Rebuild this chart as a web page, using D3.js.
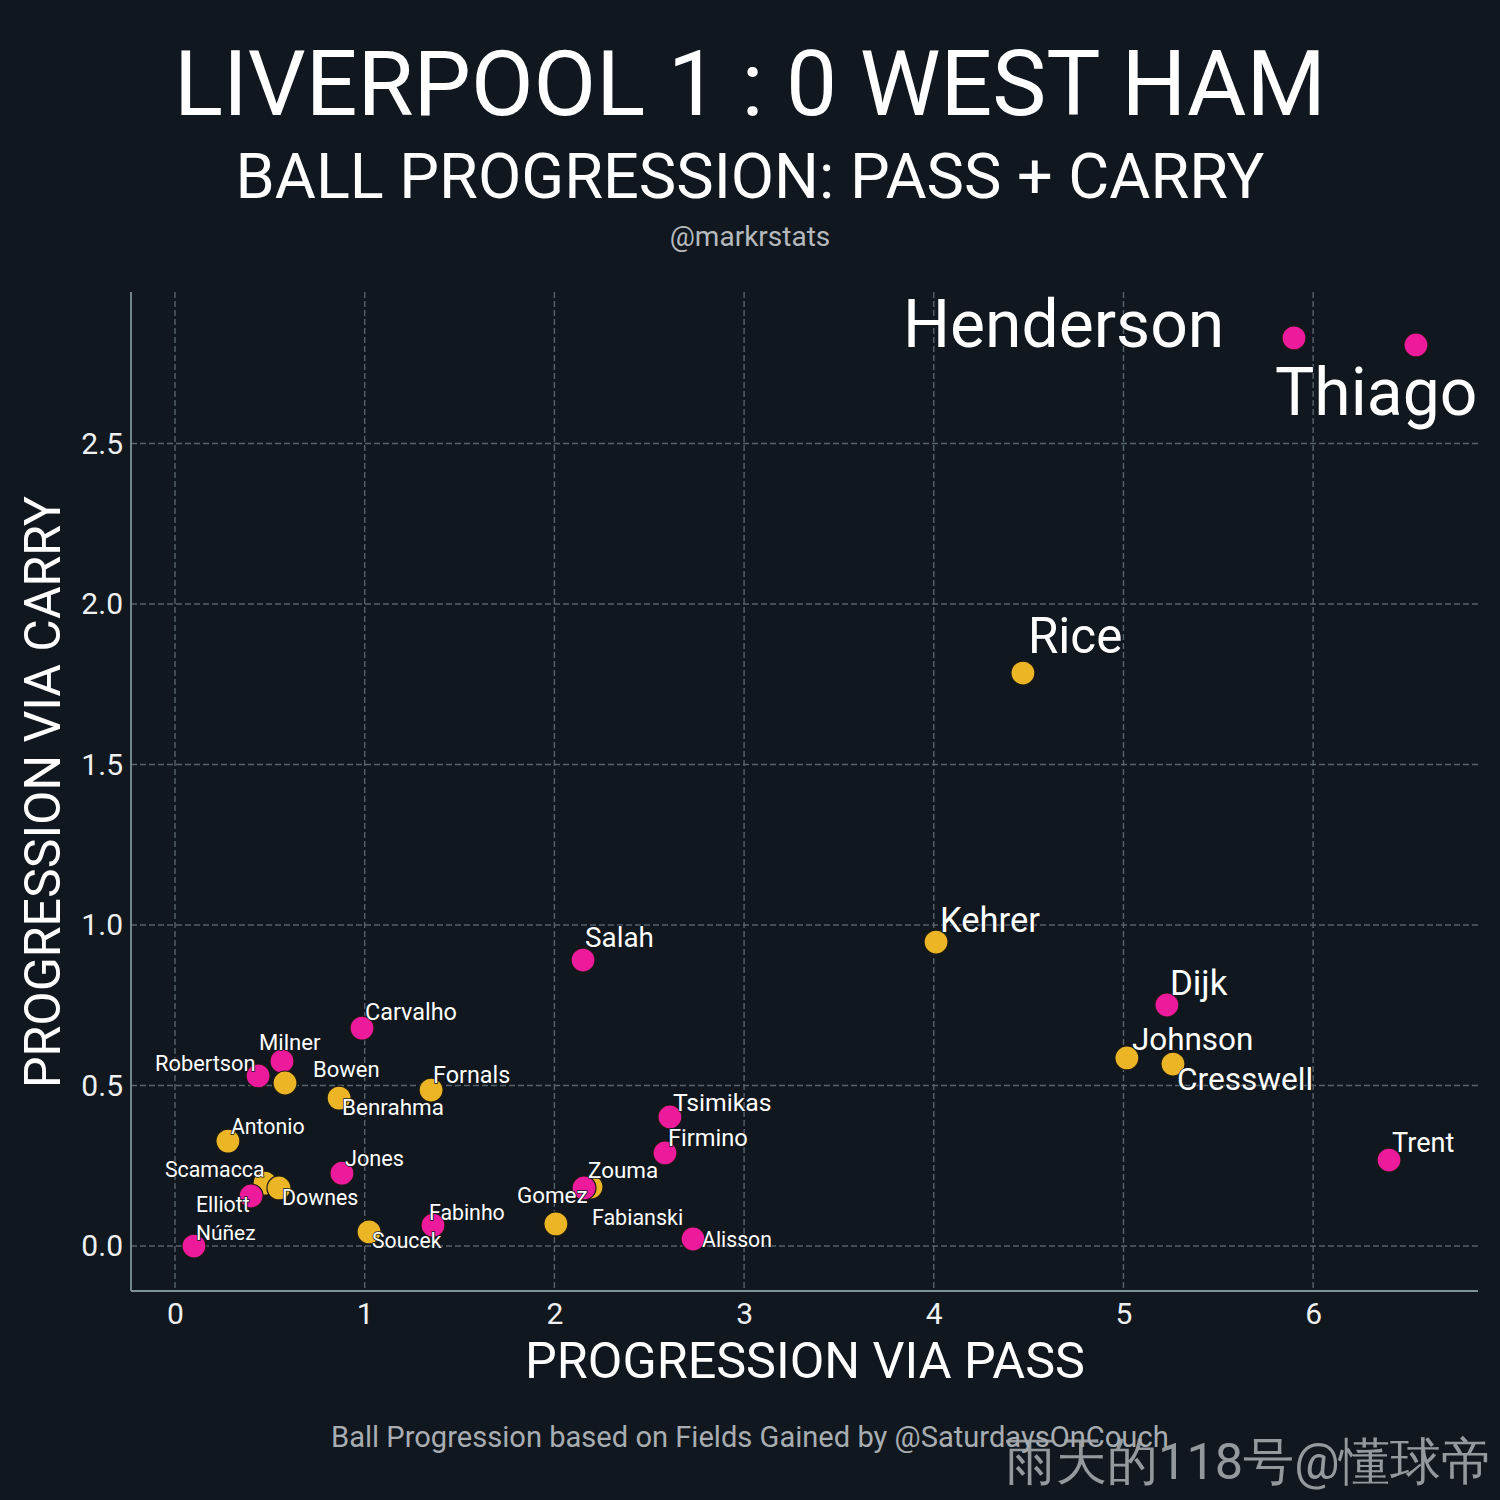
<!DOCTYPE html>
<html>
<head>
<meta charset="utf-8">
<script src="https://cdn.jsdelivr.net/npm/d3@7"></script>
<style>
  html, body { margin: 0; padding: 0; background: #10171e; }
  svg { display: block; }
  text { font-family: Roboto, "Noto Sans", sans-serif; }
</style>
</head>
<body>
<svg id="chart" width="1500" height="1500"></svg>
<script>
// ---------- DATA (draw order) ----------
const players = ["Milner","Robertson","Bowen","Carvalho","Benrahma","Fornals","Antonio","Scamacca","Downes","Elliott",
  "Jones","Núñez","Soucek","Fabinho","Zouma","Gomez","Fabianski","Tsimikas","Firmino","Alisson","Salah",
  "Kehrer","Rice","Johnson","Cresswell","Dijk","Trent","Henderson","Thiago"];
const team = ["LIV","LIV","WHU","LIV","WHU","WHU","WHU","WHU","WHU","LIV",
  "LIV","LIV","WHU","LIV","WHU","LIV","WHU","LIV","LIV","LIV","LIV",
  "WHU","WHU","WHU","WHU","LIV","LIV","LIV","LIV"];
const passProg = [0.564,0.438,0.580,0.986,0.865,1.350,0.279,0.474,0.548,0.401,
  0.880,0.100,1.023,1.360,2.193,2.156,2.008,2.609,2.583,2.731,2.151,
  4.012,4.470,5.018,5.261,5.229,6.400,5.899,6.542];
const carryProg = [0.576,0.530,0.508,0.679,0.461,0.486,0.327,0.196,0.181,0.156,
  0.227,0.000,0.044,0.065,0.184,0.181,0.069,0.402,0.290,0.022,0.891,
  0.947,1.785,0.586,0.567,0.751,0.268,2.829,2.807];
const xTicks = [0,1,2,3,4,5,6];
const yTicks = [0.0,0.5,1.0,1.5,2.0,2.5];

// ---------- LAYOUT (label offsets from dot centre, px) ----------
const labelOffset = {
  Henderson:[-391,9], Thiago:[-141,70], Rice:[5,-20], Kehrer:[4,-10], Salah:[2,-13],
  Dijk:[3,-10], Johnson:[5,-8], Cresswell:[4,26], Trent:[3,-8], Tsimikas:[3,-6],
  Firmino:[3,-7], Zouma:[-3,-9], Gomez:[-67,15], Fabianski:[36,1], Alisson:[9,8],
  Fabinho:[-4,-5], Soucek:[3,16], "Núñez":[2,-6], Elliott:[-55,16], Scamacca:[-100,-6],
  Downes:[3,17], Jones:[3,-7], Antonio:[3,-7], Benrahma:[3,17], Bowen:[28,-6],
  Fornals:[2,-7], Robertson:[-103,-5], Milner:[-23,-11], Carvalho:[3,-8]
};

const colors = { LIV: "#ee1a9c", WHU: "#ecb526" };
const bg = "#10171e";

const svg = d3.select("#chart");
svg.append("rect").attr("width",1500).attr("height",1500).attr("fill",bg);

const pLeft = 131, pRight = 1478, pTop = 292, pBottom = 1291;
const x = d3.scaleLinear().domain([-0.232, 6.869]).range([pLeft, pRight]);
const y = d3.scaleLinear().domain([-0.14, 2.972]).range([pBottom, pTop]);

// grid
const grid = svg.append("g");
grid.selectAll("line.v").data(xTicks).join("line").attr("class","v")
  .attr("x1", d => x(d)).attr("x2", d => x(d)).attr("y1", pTop).attr("y2", pBottom)
  .attr("stroke", "#56626c").attr("stroke-width", 1.4).attr("stroke-dasharray", "6,3");
grid.selectAll("line.h").data(yTicks).join("line").attr("class","h")
  .attr("y1", d => y(d)).attr("y2", d => y(d)).attr("x1", pLeft).attr("x2", pRight)
  .attr("stroke", "#56626c").attr("stroke-width", 1.4).attr("stroke-dasharray", "6,3");

// axes
const xAxis = d3.axisBottom(x).tickValues(xTicks).tickSize(0).tickPadding(12).tickFormat(d3.format("d"));
const yAxis = d3.axisLeft(y).tickValues(yTicks).tickSize(0).tickPadding(8).tickFormat(d3.format(".1f"));
const gx = svg.append("g").attr("transform", `translate(0,${pBottom})`).call(xAxis);
const gy = svg.append("g").attr("transform", `translate(${pLeft},0)`).call(yAxis);
[gx, gy].forEach(g => {
  g.select(".domain").attr("stroke", "#7f9098").attr("stroke-width", 1.8);
  g.selectAll("text").attr("fill", "#eef0f2").attr("font-size", 30).attr("font-family", "Roboto");
});
gx.select(".domain").attr("d", `M${pLeft},0H${pRight}`);
gy.select(".domain").attr("d", `M0,${pTop}V${pBottom}`);

// points
const data = players.map((p, i) => ({ name: p, team: team[i], px: passProg[i], cy: carryProg[i] }));
svg.append("g").selectAll("circle").data(data).join("circle")
  .attr("cx", d => x(d.px)).attr("cy", d => y(d.cy)).attr("r", 12)
  .attr("fill", d => colors[d.team]).attr("stroke", "#1a1a14").attr("stroke-width", 1.2);

// labels (size encodes pass x carry)
const fs = d3.scaleLinear().domain([0, 12.64]).range([21, 66]).clamp(true);
svg.append("g").selectAll("text").data(data).join("text")
  .attr("x", d => x(d.px) + labelOffset[d.name][0])
  .attr("y", d => y(d.cy) + labelOffset[d.name][1])
  .attr("font-size", d => fs(d.px * d.cy))
  .attr("fill", "#ffffff")
  .attr("stroke", bg).attr("stroke-width", 1.5).attr("paint-order", "stroke")
  .text(d => d.name);

// titles
svg.append("text").attr("x", 750).attr("y", 115).attr("text-anchor", "middle")
  .attr("font-size", 91).attr("fill", "#ffffff").text("LIVERPOOL 1 : 0 WEST HAM");
svg.append("text").attr("x", 750).attr("y", 198).attr("text-anchor", "middle")
  .attr("font-size", 63).attr("fill", "#ffffff").text("BALL PROGRESSION: PASS + CARRY");
svg.append("text").attr("x", 750).attr("y", 246).attr("text-anchor", "middle")
  .attr("font-size", 28).attr("fill", "#b5b9bd").text("@markrstats");

// axis titles
svg.append("text").attr("x", 805).attr("y", 1378).attr("text-anchor", "middle")
  .attr("font-size", 50.3).attr("fill", "#ffffff").text("PROGRESSION VIA PASS");
svg.append("text").attr("transform", "translate(60,792) rotate(-90)").attr("text-anchor", "middle")
  .attr("font-size", 50).attr("fill", "#ffffff").text("PROGRESSION VIA CARRY");

// footer
svg.append("text").attr("x", 331).attr("y", 1447)
  .attr("font-size", 29.1).attr("fill", "#a8adb2").text("Ball Progression based on Fields Gained by @SaturdaysOnCouch");
svg.append("text").attr("x", 1005).attr("y", 1479)
  .attr("font-size", 50.5).attr("fill", "#a3a7ab").attr("fill-opacity", 0.9)
  .attr("font-family", "'Noto Sans CJK SC', sans-serif").text("雨天的118号@懂球帝");
</script>
</body>
</html>
